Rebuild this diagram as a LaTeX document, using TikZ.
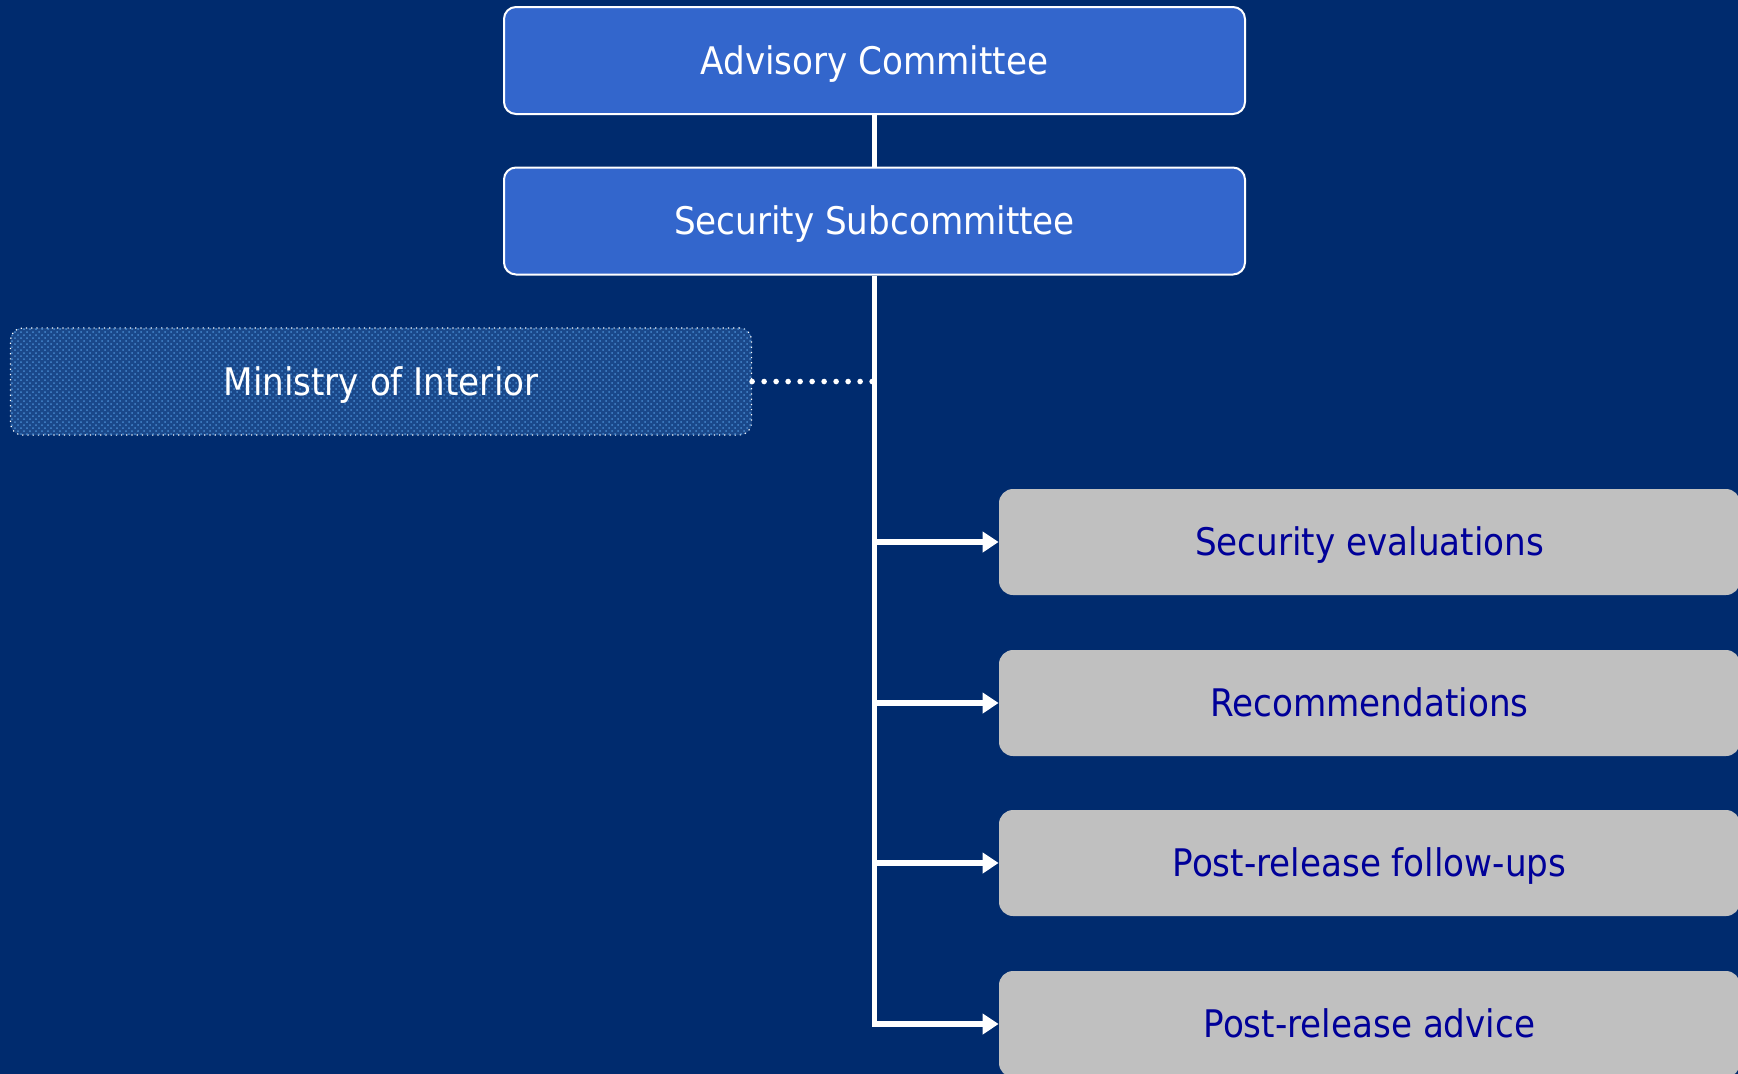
\documentclass[tikz,border=0pt]{standalone}
\usepackage{fontspec}
\setmainfont{DejaVu Sans Condensed}
\usetikzlibrary{arrows.meta,patterns}
\definecolor{bg}{RGB}{0,43,110}
\definecolor{topblue}{RGB}{51,102,204}
\definecolor{minblue}{RGB}{26,72,138}
\definecolor{mindot}{RGB}{70,135,205}
\definecolor{graybox}{RGB}{192,192,192}
\definecolor{navytext}{RGB}{0,0,153}
\tikzset{
  boxfont/.style={font=\fontsize{19}{22}\selectfont, text height=13.9pt, text depth=0pt},
  topbox/.style={draw=white, line width=1pt, fill=topblue, rounded corners=6pt,
    minimum width=370.5pt, minimum height=53.5pt, text=white, boxfont, inner sep=0pt},
  minbox/.style={draw=white, line width=0.6pt, dotted, fill=minblue, rounded corners=6pt,
    preaction={fill=minblue}, postaction={pattern=crosshatch dots, pattern color=mindot},
    minimum width=370.5pt, minimum height=53.5pt, text=white, boxfont, inner sep=0pt},
  taskbox/.style={draw=none, fill=graybox, rounded corners=7pt,
    minimum width=370.5pt, minimum height=53pt, text=navytext, boxfont, inner sep=0pt},
  link/.style={draw=white, line width=2.4pt},
  arr/.style={draw=white, line width=2.6pt, -{Triangle[length=8pt,width=10pt]}},
  dotlink/.style={draw=white, line width=2.8pt, line cap=round, dash pattern=on 0pt off 6pt}
}
\begin{document}
\begin{tikzpicture}[x=0.5pt,y=-0.5pt]
\useasboundingbox (0,0) rectangle (1738,1073);
\clip (0,0) rectangle (1738,1073);
\fill[bg] (-10,-10) rectangle (1748,1083);
\node[topbox] (adv) at (874.5,60.5) {Advisory Committee};
\node[topbox] (sub) at (874.5,221) {Security Subcommittee};
\node[minbox] (min) at (381,381.5) {Ministry of Interior};
\node[taskbox] (t1) at (1369.5,542) {Security evaluations};
\node[taskbox] (t2) at (1369.5,703) {Recommendations};
\node[taskbox] (t3) at (1369.5,863) {Post-release follow-ups};
\node[taskbox] (t4) at (1369.5,1024) {Post-release advice};
\draw[link] (adv.south) -- (sub.north);
\draw[arr] (sub.south) |- (t4.west);
\draw[arr] (sub.south |- t1.west) -- (t1.west);
\draw[arr] (sub.south |- t2.west) -- (t2.west);
\draw[arr] (sub.south |- t3.west) -- (t3.west);
\draw[dotlink] (min.east) -- (min.east -| sub.south);
\end{tikzpicture}
\end{document}
